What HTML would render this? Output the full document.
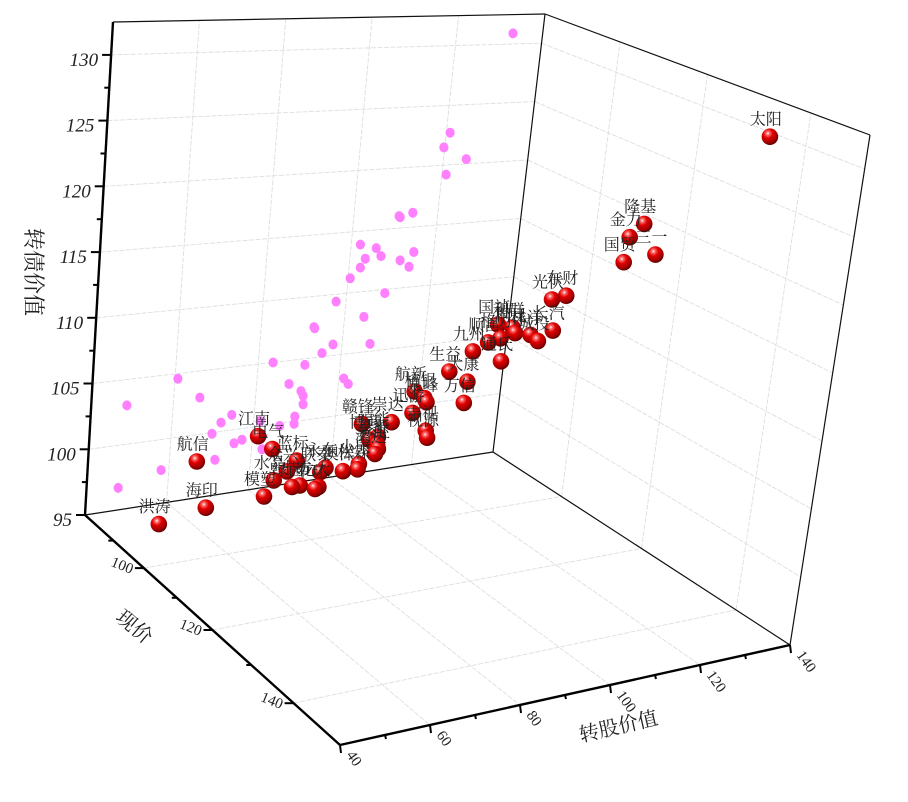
<!DOCTYPE html>
<html><head><meta charset="utf-8">
<style>
html,body{margin:0;padding:0;background:#fff;}
svg{display:block;}
text{font-family:"Liberation Serif","Noto Serif CJK SC","Noto Sans CJK SC",serif;}
</style></head>
<body>
<svg id="chart" width="908" height="802" viewBox="0 0 908 802" xmlns="http://www.w3.org/2000/svg">
<defs>
<radialGradient id="ballGrad" cx="38%" cy="30%" r="72%">
<stop offset="0" stop-color="#ffffff"/>
<stop offset="0.14" stop-color="#ff7070"/>
<stop offset="0.4" stop-color="#e00000"/>
<stop offset="0.78" stop-color="#a00000"/>
<stop offset="1" stop-color="#580000"/>
</radialGradient>
</defs>
<rect x="0" y="0" width="908" height="802" fill="#fff"/>
<g id="grid"></g>
<g id="edges"></g>
<g id="pink"></g>
<g id="axes"></g>
<g id="balls"></g>
<text x="0" y="0" font-size="22" text-anchor="middle" transform="translate(26,272) rotate(90)" fill="#222">转债价值</text>
<text x="0" y="0" font-size="20" text-anchor="middle" transform="translate(130,632) rotate(40)" fill="#222">现价</text>
<text x="0" y="0" font-size="20" text-anchor="middle" transform="translate(620,733) rotate(-13)" fill="#222">转股价值</text>
</svg>
<script>
// ---- data ----
const names = ["太阳","隆基","金力","三一","国贸","东财","光伏","长汽","林洋","城投","国祯","利群","桐昆","格力","顺昌","通氏","九州","大康","生益","万信","泉峰","杭银","航新","迅游","吉视","视源","崇达","赣锋","博彦","星源","鸿达","彩虹","小康","松霖","澳洋","永东","联泰","龙大","中环","十方","绿茵","蓝标","众兴","水晶","电气","江南","航信","模塑","海印","洪涛","福能"];
const convValue = [133.4,117.3,115.5,119.5,115.1,107.3,105.3,106.0,102.8,104.0,97.8,100.0,100.5,98.4,96.6,98.9,94.5,94.2,91.3,94.0,88.4,88.0,86.4,86.4,88.7,89.0,83.4,78.8,80.2,81.5,81.3,81.7,79.0,78.8,76.6,73.8,73.1,73.0,72.5,70.1,68.9,69.3,67.9,65.9,65.3,62.9,53.6,64.6,55.5,48.2,81.5];
const price = [138.8,131.5,130.6,132.5,130.4,126.7,125.7,126.0,124.4,125.0,121.9,123.0,123.2,122.2,121.3,122.4,120.2,120.0,118.5,119.9,116.9,116.7,115.9,115.9,117.1,117.3,114.2,111.8,112.5,113.2,113.1,113.3,111.8,111.8,110.5,109.0,108.5,108.5,108.2,106.8,106.1,106.3,105.5,104.4,104.0,102.6,96.8,103.6,98.1,93.4,113.2];
const bondValue = [130.7,123.4,122.3,121.2,120.4,117.5,117.1,114.8,114.3,113.9,114.8,114.7,114.3,113.8,113.4,112.1,112.6,110.3,110.9,108.7,108.4,108.7,109.1,107.5,106.3,105.8,106.6,106.2,105.1,104.8,104.1,104.5,103.2,102.8,102.5,102.6,102.2,101.1,100.9,101.0,100.8,102.8,101.9,101.1,103.4,104.2,101.6,99.8,98.3,96.5,105.4];
const wallConv = [133.1,120.9,119.8,125.4,121.0,110.8,111.1,114.0,102.2,106.1,103.7,107.4,102.7,115.2,112.1,114.4,100.5,109.2,97.6,92.8,93.0,104.7,97.8,106.8,95.3,83.6,91.4,60.7,87.9,66.4,101.2,102.4,91.0,91.6,91.8,48.7,74.5,72.0,70.0,90.0,90.0,81.6,75.6,77.5,86.5,82.6,71.2,58.1,47.8];
const wallBond = [130.9,122.7,121.5,120.4,119.2,116.0,115.9,116.2,113.9,113.5,112.7,112.8,112.0,112.9,112.3,111.7,111.2,109.7,109.4,107.5,107.4,107.9,105.9,105.6,105.3,105.0,104.5,104.6,103.1,102.9,103.0,102.5,102.4,102.0,101.3,103.0,101.2,100.7,99.9,100.4,99.8,100.4,98.9,99.1,99.8,98.1,97.8,97.6,96.7];
const xTicks = [40,60,80,100,120,140];
const yTicks = [100,120,140];
const zTicks = [95,100,105,110,115,120,125,130];

// ---- projection (axis functions) ----
const XMIN=40,XMAX=140,YMIN=80,YMAX=150,ZMIN=95,ZMAX=132.5,K=1.333;
const cD=[340,745],cC=[790,645],cA=[85,515],cB=[493,452];
const tD=[395,175],tC=[870,135],tA=[113,22],tB=[545,14];
function bil(p,q,r,s,u,sv){
  return [p[0]*(1-u)*sv+q[0]*u*sv+r[0]*(1-u)*(1-sv)+s[0]*u*(1-sv),
          p[1]*(1-u)*sv+q[1]*u*sv+r[1]*(1-u)*(1-sv)+s[1]*u*(1-sv)];
}
function P(x,y,z){
  const u=(x-XMIN)/(XMAX-XMIN);
  const t=(y-YMIN)/(YMAX-YMIN);
  const sv=t<=0?0:t/(t+K*(1-t));
  const w=(z-ZMIN)/(ZMAX-ZMIN);
  const b=bil(cD,cC,cA,cB,u,sv), tp=bil(tD,tC,tA,tB,u,sv);
  return [b[0]+(tp[0]-b[0])*w, b[1]+(tp[1]-b[1])*w];
}
const NS="http://www.w3.org/2000/svg";
function el(tag,attrs,parent){const e=document.createElementNS(NS,tag);for(const k in attrs)e.setAttribute(k,attrs[k]);parent.appendChild(e);return e;}
function line(a,b,parent,stroke,sw,dash){const l=el("line",{x1:a[0].toFixed(1),y1:a[1].toFixed(1),x2:b[0].toFixed(1),y2:b[1].toFixed(1),stroke:stroke,"stroke-width":sw},parent);if(dash)l.setAttribute("stroke-dasharray",dash);return l;}

// ---- grid ----
const g=document.getElementById("grid");
const GC="#dedede";
zTicks.forEach(z=>{
  let l=line(P(XMIN,YMIN,z),P(XMAX,YMIN,z),g,GC,0.9,"5 1.5");
  
  
  l=line(P(XMAX,YMIN,z),P(XMAX,YMAX,z),g,GC,0.9,"5 1.5");
  
  
});
xTicks.slice(1,-1).forEach(x=>{
  let l=line(P(x,YMIN,ZMIN),P(x,YMIN,ZMAX),g,GC,0.9,"5 1.5");
  
  
  l=line(P(x,YMIN,ZMIN),P(x,YMAX,ZMIN),g,GC,0.9,"5 1.5");
  
  
});
yTicks.forEach(y=>{
  let l=line(P(XMAX,y,ZMIN),P(XMAX,y,ZMAX),g,GC,0.9,"5 1.5");
  
  
  l=line(P(XMIN,y,ZMIN),P(XMAX,y,ZMIN),g,GC,0.9,"5 1.5");
  
  
});

// ---- box edges ----
const ed=document.getElementById("edges");
[[[XMIN,YMIN,ZMIN],[XMAX,YMIN,ZMIN]],[[XMAX,YMIN,ZMIN],[XMAX,YMAX,ZMIN]],[[XMAX,YMIN,ZMIN],[XMAX,YMIN,ZMAX]],
 [[XMIN,YMIN,ZMAX],[XMAX,YMIN,ZMAX]],[[XMAX,YMIN,ZMAX],[XMAX,YMAX,ZMAX]],[[XMAX,YMAX,ZMIN],[XMAX,YMAX,ZMAX]]].forEach(e=>{
  const l=line(P(...e[0]),P(...e[1]),ed,"#111",1.2);
  
  
});

// ---- axes ----
const ax=document.getElementById("axes");
let a=line(P(XMIN,YMIN,ZMIN),P(XMIN,YMIN,ZMAX),ax,"#000",2.4);


a=line(P(XMIN,YMIN,ZMIN),P(XMIN,YMAX,ZMIN),ax,"#000",2.4);


a=line(P(XMIN,YMAX,ZMIN),P(XMAX,YMAX,ZMIN),ax,"#000",2.4);


for(let z=ZMIN;z<=130.01;z+=2.5){
  const p=P(XMIN,YMIN,z), major=Math.abs((z-ZMIN)%5)<0.01;
  const l=line(p,[p[0]-(major?9:5),p[1]],ax,"#000",2);
  
  
}
zTicks.forEach(z=>{
  const p=P(XMIN,YMIN,z);
  const t=el("text",{x:(p[0]-13).toFixed(1),y:(p[1]+11).toFixed(1),"font-size":"19","font-style":"italic","text-anchor":"end",fill:"#222"},ax);
  t.textContent=z;
  
  
});
for(let y=90;y<=140;y+=10){
  const p=P(XMIN,y,ZMIN), major=yTicks.includes(y);
  const l=line(p,[p[0]-(major?9:5),p[1]],ax,"#000",2);
  
  
}
yTicks.forEach(y=>{
  const p=P(XMIN,y,ZMIN);
  const t=el("text",{x:"0",y:"0","font-size":"15","text-anchor":"end",fill:"#222",transform:`translate(${(p[0]-13).toFixed(1)},${(p[1]+6).toFixed(1)}) rotate(22)`},ax);
  t.textContent=y;
  
  
});
for(let x=40;x<=140;x+=10){
  const p=P(x,YMAX,ZMIN), major=xTicks.includes(x);
  const l=line(p,[p[0]+1,p[1]+(major?8:4)],ax,"#000",2);
  
  
}
xTicks.forEach(x=>{
  const p=P(x,YMAX,ZMIN);
  const t=el("text",{x:"0",y:"0","font-size":"15","text-anchor":"start",fill:"#222",transform:`translate(${(p[0]+6).toFixed(1)},${(p[1]+10).toFixed(1)}) rotate(55)`},ax);
  t.textContent=x;
  
  
});

// ---- wall projection points ----
const pk=document.getElementById("pink");
wallConv.forEach((x,i)=>{
  const p=P(x,YMIN,wallBond[i]);
  const c=el("ellipse",{cx:p[0].toFixed(1),cy:p[1].toFixed(1),rx:"4.6",ry:"5",fill:"#ff80ff"},pk);
  
  
});

// ---- bond spheres ----
const bl=document.getElementById("balls");
const idx=convValue.map((_,i)=>i).sort((i,j)=>P(convValue[i],price[i],bondValue[i])[1]-P(convValue[j],price[j],bondValue[j])[1]);
idx.forEach(i=>{
  const p=P(convValue[i],price[i],bondValue[i]);
  const grp=el("g",{},bl);
  
  
  const t=el("text",{x:(p[0]-4).toFixed(1),y:(p[1]-12).toFixed(1),"font-size":"16","text-anchor":"middle",fill:"#222"},grp);
  t.textContent=names[i];
  
  
  const c=el("circle",{cx:p[0].toFixed(1),cy:p[1].toFixed(1),r:"8.3",fill:"url(#ballGrad)"},grp);
  
  
});
</script>
</body></html>
